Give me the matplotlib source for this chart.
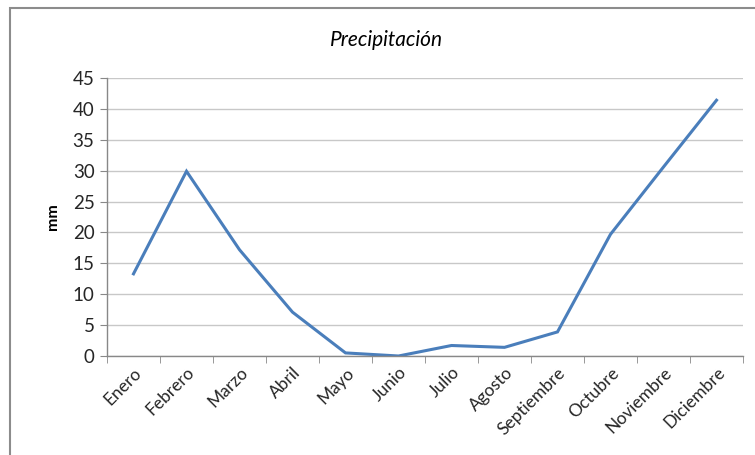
import matplotlib.pyplot as plt
from matplotlib.patches import Rectangle
from matplotlib.ticker import FixedLocator

meses = ['Enero', 'Febrero', 'Marzo', 'Abril', 'Mayo', 'Junio', 'Julio',
         'Agosto', 'Septiembre', 'Octubre', 'Noviembre', 'Diciembre']
precip = [13.3, 29.9, 17.2, 7.1, 0.5, 0.0, 1.7, 1.4, 3.9, 19.7, 30.6, 41.4]
yticks = [0, 5, 10, 15, 20, 25, 30, 35, 40, 45]

plt.rcParams['font.family'] = ['Lato', 'DejaVu Sans']

fig = plt.figure(figsize=(7.55, 4.55), dpi=100)
W, H = 755, 455

# outer chart frame
fig.patches.append(Rectangle((10 / W, -0.1), 1.2, 1 - 8 / H + 0.1,
                             transform=fig.transFigure, fill=False,
                             edgecolor='#8c8c8c', linewidth=1.5))

ax = fig.add_axes([107 / W, (H - 356) / H, 636 / W, 278 / H])
x = list(range(len(meses)))
ax.plot(x, precip, color='#4a7ebb', linewidth=2.2, solid_joinstyle='miter')

ax.set_xlim(-0.5, len(meses) - 0.5)
ax.set_ylim(0, 45)
ax.set_yticks(yticks)
ax.set_xticks(x)
ax.set_xticklabels(meses, rotation=45, ha='right', rotation_mode='anchor',
                   fontsize=12.5, color='#262626')
ax.xaxis.set_minor_locator(FixedLocator([i - 0.5 for i in range(len(meses) + 1)]))
ax.tick_params(axis='x', which='major', length=0, pad=6)
ax.tick_params(axis='x', which='minor', length=5, color='#888888', direction='out')
ax.tick_params(axis='y', length=5, color='#888888', labelsize=13.5,
               labelcolor='#262626', pad=4)

ax.grid(axis='y', color='#c8c8c8', linewidth=1)
ax.set_axisbelow(True)
for s in ['top', 'right']:
    ax.spines[s].set_visible(False)
for s in ['left', 'bottom']:
    ax.spines[s].set_color('#888888')
    ax.spines[s].set_linewidth(1)

ax.set_ylabel('mm', fontsize=11.5, fontweight='bold', labelpad=9)
fig.text(387 / W, 1 - 40 / H, 'Precipitación', ha='center', va='center',
         fontsize=15, fontstyle='italic', color='#000000')

fig.savefig('out.png', dpi=100)
